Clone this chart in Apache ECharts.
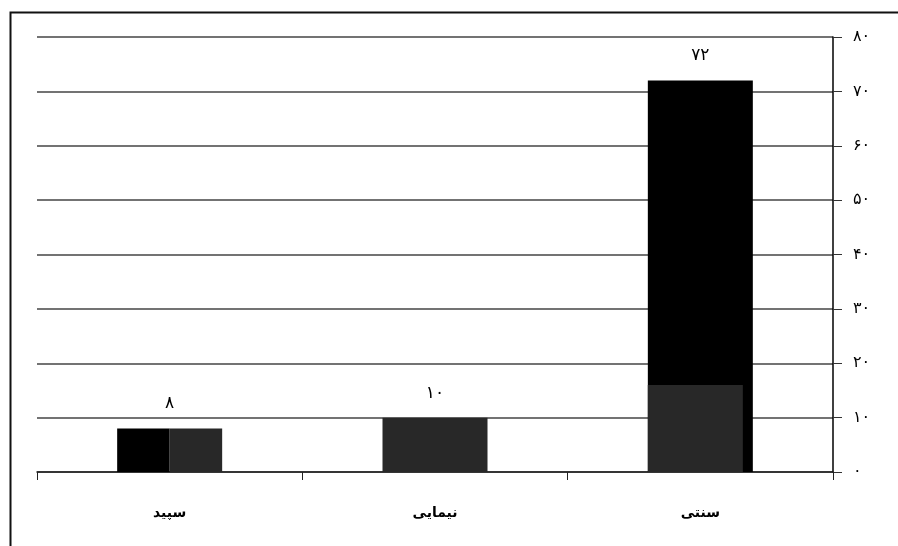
<!DOCTYPE html>
<html>
<head>
<meta charset="utf-8">
<script src="https://cdn.jsdelivr.net/npm/echarts@6/dist/echarts.min.js"></script>
<style>html,body{margin:0;padding:0;background:#fff;}#c{width:898px;height:546px;}</style>
</head>
<body>
<div id="c"></div>
<script>
const categories = ['سپید', 'نیمایی', 'سنتی'];
// full-width layers
const blackFull = [null, null, 72];
const grayFull = [null, 10, null];
// split layer (first category: half black, half gray)
const blackHalf = [8, null, null];
const grayHalf = [8, null, null];
// inset gray overlay on the third bar
const grayInset = [null, null, 16];
// value labels (totals)
const totals = [8, 10, 72];
const yTicks = [0, 10, 20, 30, 40, 50, 60, 70, 80];

const fa = (n) => String(n).replace(/\d/g, d => '۰۱۲۳۴۵۶۷۸۹'[d]);
const BLACK = '#000000', GRAY = '#282828';
const FONT = 'DejaVu Sans';

const hiddenX = (i) => ({ type: 'category', data: categories, gridIndex: 0, show: false });

const chart = echarts.init(document.getElementById('c'), null, { renderer: 'canvas' });
chart.setOption({
  animation: false,
  backgroundColor: '#fff',
  grid: { left: 37, right: 65, top: 37, bottom: 74 },
  graphic: [{
    type: 'rect', left: 8, top: 10, shape: { width: 1000, height: 1000 },
    style: { fill: 'none', stroke: '#111', lineWidth: 2 }, z: 100, silent: true
  }],
  xAxis: [
    {
      type: 'category', data: categories,
      axisLine: { lineStyle: { color: '#222', width: 1.5 } },
      axisTick: { show: true, length: 8, lineStyle: { color: '#222' } },
      axisLabel: { margin: 34, fontFamily: FONT, fontSize: 14, fontWeight: 'bold', color: '#000' },
      splitLine: { show: false }
    },
    hiddenX(1), hiddenX(2), hiddenX(3)
  ],
  yAxis: {
    type: 'value', position: 'right', min: yTicks[0], max: yTicks[yTicks.length - 1], interval: 10,
    axisLine: { show: true, lineStyle: { color: '#000', width: 1.5 } },
    axisTick: { show: true, length: 9, lineStyle: { color: '#333' } },
    axisLabel: { margin: 20, fontFamily: FONT, fontSize: 16, color: '#000', formatter: v => fa(v) },
    splitLine: { show: true, lineStyle: { color: '#444', width: 1.5 } }
  },
  series: [
    { type: 'bar', xAxisIndex: 0, data: blackFull, barWidth: 105, barGap: '-100%', itemStyle: { color: BLACK }, z: 2 },
    { type: 'bar', xAxisIndex: 0, data: grayFull, barWidth: 105, barGap: '-100%', itemStyle: { color: GRAY }, z: 2 },
    { type: 'bar', xAxisIndex: 0, data: totals, barWidth: 105, barGap: '-100%', itemStyle: { color: 'rgba(0,0,0,0)' }, z: 5,
      label: { show: true, position: 'top', distance: 16, fontFamily: FONT, fontSize: 17, color: '#000', formatter: p => fa(p.value) } },
    { type: 'bar', xAxisIndex: 1, data: blackHalf, barWidth: 52.5, barGap: 0, itemStyle: { color: BLACK }, z: 3 },
    { type: 'bar', xAxisIndex: 1, data: grayHalf, barWidth: 52.5, barGap: 0, itemStyle: { color: GRAY }, z: 3 },
    { type: 'bar', xAxisIndex: 2, data: grayInset, barWidth: 95, barGap: 0, itemStyle: { color: GRAY }, z: 4 },
    { type: 'bar', xAxisIndex: 2, data: grayInset, barWidth: 10, barGap: 0, itemStyle: { color: 'rgba(0,0,0,0)' }, z: 4 }
  ]
});
</script>
</body>
</html>
